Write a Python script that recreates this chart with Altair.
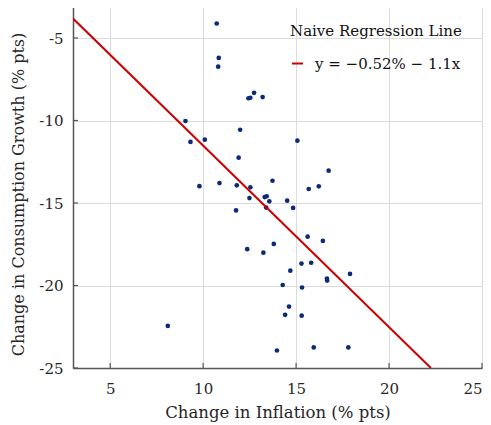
import altair as alt
import pandas as pd

# Scatter data: change in inflation (x) vs change in consumption growth (y), % pts
infl = [10.73, 10.84, 10.81, 12.44, 12.54, 12.74, 13.20, 9.05, 9.32, 10.09,
        11.99, 15.07, 11.91, 16.75, 9.80, 10.88, 11.81, 12.54, 13.73, 15.68,
        16.22, 12.49, 13.31, 13.42, 13.56, 13.39, 14.52, 14.84, 11.77, 15.62,
        16.44, 12.37, 13.24, 13.80, 15.29, 15.81, 14.69, 17.90, 16.66, 16.67,
        14.28, 15.32, 14.62, 14.41, 15.30, 13.97, 15.95, 17.81, 8.10]
cons = [-4.12, -6.21, -6.74, -8.65, -8.62, -8.32, -8.58, -10.03, -11.30, -11.16,
        -10.56, -11.22, -12.25, -13.04, -13.98, -13.79, -13.93, -14.05, -13.65, -14.15,
        -13.99, -14.70, -14.64, -14.59, -14.90, -15.28, -14.86, -15.30, -15.45, -17.04,
        -17.30, -17.80, -18.01, -17.48, -18.67, -18.62, -19.10, -19.30, -19.58, -19.70,
        -19.97, -20.12, -21.28, -21.78, -21.83, -23.94, -23.75, -23.75, -22.45]

# Regression line endpoints (y = -0.52 - 1.1x)
line_x = [3.0, 22.25]
line_y = [-3.82, -25.0]
line_label = "y = \u22120.52% \u2212 1.1x"

x_ticks = [5, 10, 15, 20, 25]
y_ticks = [-25, -20, -15, -10, -5]

W, H = 409, 363
FONT = "DejaVu Serif"
AX = "#262626"
HYPHEN = "replace(datum.label, '\u2212', '-')"

pts = pd.DataFrame({"infl": infl, "cons": cons})
ln = pd.DataFrame({"infl": line_x, "cons": line_y, "series": [line_label] * 2})
xt = pd.DataFrame({"t": x_ticks})
yt = pd.DataFrame({"t": y_ticks})

xscale = alt.Scale(domain=[3, 25], nice=False, zero=False)
yscale = alt.Scale(domain=[-25, -3], nice=False, zero=False)

xaxis = alt.Axis(values=x_ticks, title="Change in Inflation (% pts)", grid=True,
                 gridColor="#dcdcdc", gridWidth=1, domainColor="#555555", domainWidth=1.5,
                 tickSize=0, labelFont=FONT, labelFontSize=15, labelColor=AX,
                 labelPadding=13, titleFont=FONT, titleFontSize=16.5, titleFontWeight="normal",
                 titleColor=AX, titleX=W / 2, titleY=44, titleBaseline="middle",
                 titleAnchor="middle", titleAlign="center", labelExpr=HYPHEN)
yaxis = alt.Axis(values=y_ticks, title="Change in Consumption Growth (% pts)", grid=True,
                 gridColor="#dcdcdc", gridWidth=1, domainColor="#555555", domainWidth=1.5,
                 tickSize=0, labelFont=FONT, labelFontSize=15, labelColor=AX,
                 labelPadding=10, titleFont=FONT, titleFontSize=16, titleFontWeight="normal",
                 titleColor=AX, titleX=-55, titleY=189, titleBaseline="middle",
                 titleAnchor="middle", titleAlign="center", labelExpr=HYPHEN)

points = alt.Chart(pts).mark_circle(size=22, color="#0b2a78", opacity=1).encode(
    x=alt.X("infl:Q", scale=xscale, axis=xaxis),
    y=alt.Y("cons:Q", scale=yscale, axis=yaxis),
)

line = alt.Chart(ln).mark_line(strokeWidth=2, clip=True).encode(
    x=alt.X("infl:Q", scale=xscale),
    y=alt.Y("cons:Q", scale=yscale),
    color=alt.Color("series:N", scale=alt.Scale(domain=[line_label], range=["#cc0000"]),
                    legend=alt.Legend(title="Naive Regression Line", orient="none",
                                      legendX=217, legendY=19, symbolType="stroke",
                                      symbolStrokeWidth=2, symbolSize=121,
                                      titleFont=FONT, titleFontSize=15,
                                      titleFontWeight="normal", titleColor="#111111",
                                      titlePadding=17, labelFont=FONT, labelFontSize=15,
                                      labelColor="#111111", labelOffset=10)),
)

xticks = alt.Chart(xt).mark_rule(color="#555555", strokeWidth=1.2).encode(
    x=alt.X("t:Q", scale=xscale), y=alt.value(H), y2=alt.value(H - 5))
yticks = alt.Chart(yt).mark_rule(color="#555555", strokeWidth=1.2).encode(
    y=alt.Y("t:Q", scale=yscale), x=alt.value(0), x2=alt.value(5))

chart = alt.layer(points, xticks, yticks, line).properties(
    width=W, height=H,
    padding={"left": 65, "top": -3, "right": 1, "bottom": 55},
    autosize=alt.AutoSizeParams(type="none"),
).configure_view(stroke=None).configure(background="white")

chart.save("out.html", embed_options={"renderer": "svg", "actions": False})
